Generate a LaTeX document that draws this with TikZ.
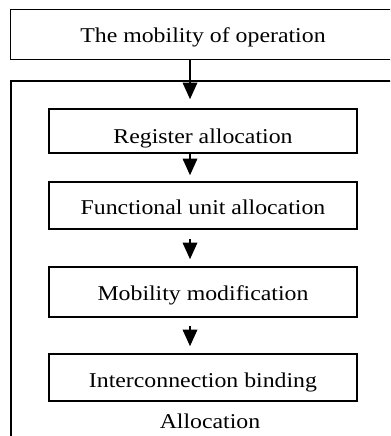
\documentclass[tikz,border=0pt]{standalone}
\usepackage{fontspec}
\setmainfont{Liberation Serif}[FakeStretch=1.13]
\usetikzlibrary{arrows.meta}
\begin{document}
\begin{tikzpicture}[x=0.75pt,y=-0.75pt,
  frame/.style={draw=black, line width=1.2pt, inner sep=0pt},
  boxnode/.style={frame, minimum width=231pt},
  txt/.style={anchor=base, inner sep=0pt, font=\fontsize{15.8}{18}\selectfont},
  arr/.style={draw=black, line width=1.2pt, -{Triangle[length=12.5pt,width=11pt]}}]
\useasboundingbox (0,0) rectangle (390,436);
\clip (0,0) rectangle (390,436);
% top box and outer container
\node[frame, minimum width=288.75pt, minimum height=37.5pt] (top) at (203,34.5) {};
\node[frame, minimum width=288pt, minimum height=273pt] (outer) at (203,263) {};
% inner boxes
\node[boxnode, minimum height=33pt] (reg) at (203,131) {};
\node[boxnode, minimum height=35.25pt] (fu) at (203,205.5) {};
\node[boxnode, minimum height=37.5pt] (mob) at (203,292) {};
\node[boxnode, minimum height=35.25pt] (ic) at (203,377.5) {};
% texts
\node[txt] (topt) at (203,42.5) {The mobility of operation};
\node[txt] (regt) at (203,143.5) {Register allocation};
\node[txt] (fut) at (203,214) {Functional unit allocation};
\node[txt] (mobt) at (203,300) {Mobility modification};
\node[txt] (ict) at (203,387) {Interconnection binding};
\node[txt] (lbl) at (210,428) {Allocation};
% arrows
\coordinate (ax) at (190,0);
\draw[arr, shorten >=6.75pt] (top.south -| ax) -- (reg.north -| ax);
\draw[arr, shorten >=4.5pt] (reg.south -| ax) -- (fu.north -| ax);
\draw[arr, shorten <=6.75pt, shorten >=5.25pt] (fu.south -| ax) -- (mob.north -| ax);
\draw[arr, shorten <=6pt, shorten >=5.25pt] (mob.south -| ax) -- (ic.north -| ax);
\end{tikzpicture}
\end{document}
